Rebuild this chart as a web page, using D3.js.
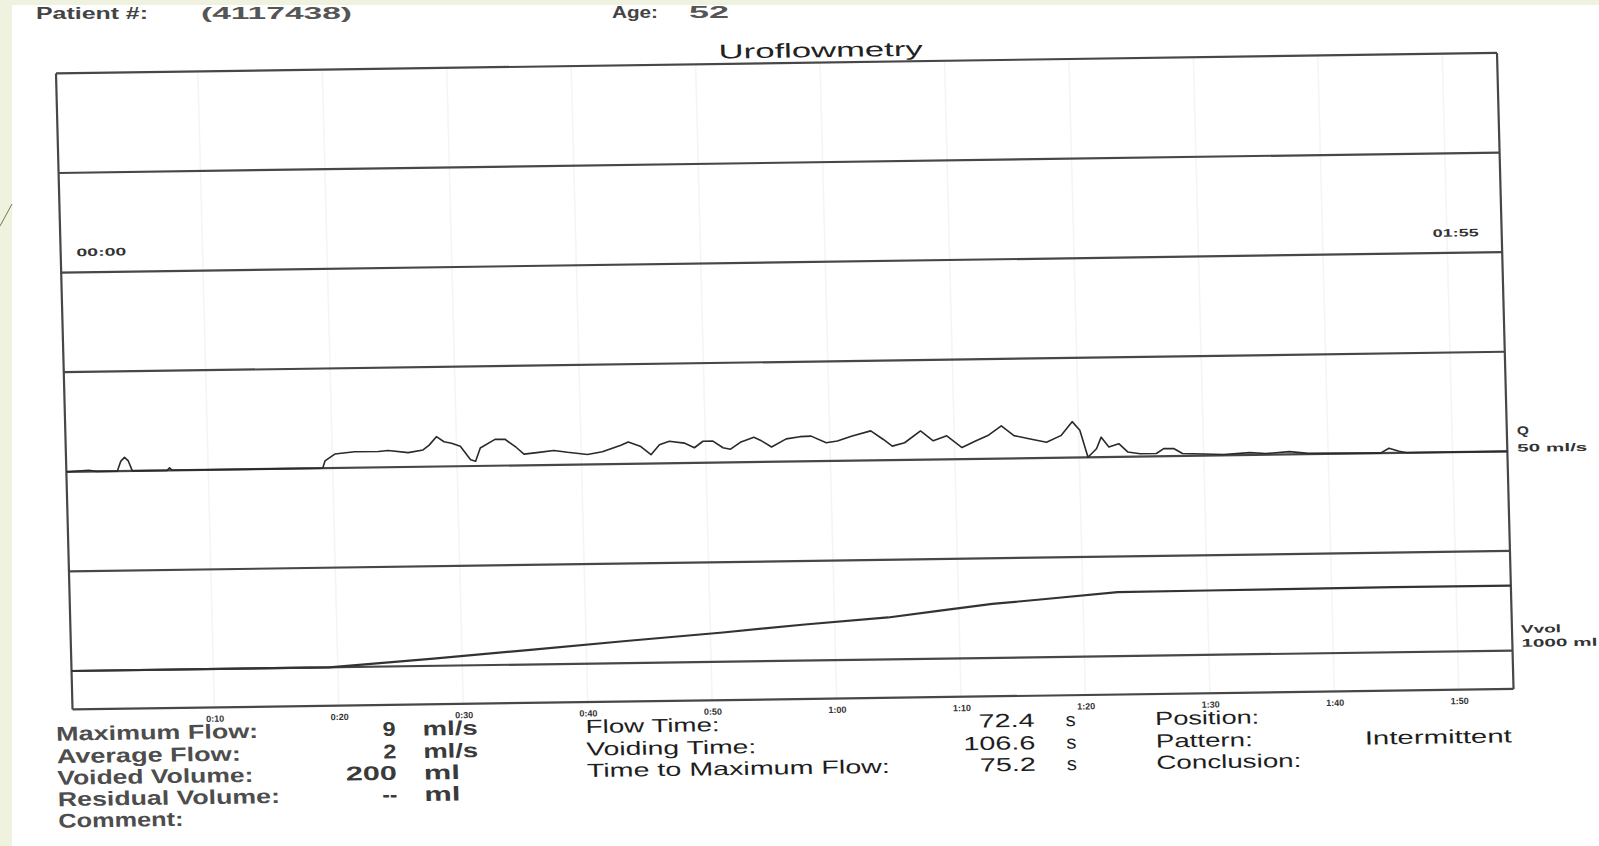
<!DOCTYPE html>
<html><head><meta charset="utf-8">
<script src="https://cdn.jsdelivr.net/npm/d3@7"></script>
<style>html,body{margin:0;padding:0;background:#fff;overflow:hidden}</style>
</head><body>
<svg id="c" width="1599" height="846"></svg>
<script>
// ---------- data ----------
const flowTime = [-1.4,0.4,1.0,2.7,3.0,3.3,3.6,3.9,6.7,6.9,7.1,19.2,19.4,20.2,21.8,23.7,24.5,26.1,27.3,27.8,28.4,29.0,29.6,30.3,31.1,31.5,31.9,33.1,33.9,34.8,35.4,36.6,37.8,38.9,40.5,41.7,43.2,43.8,44.8,45.6,46.3,47.1,48.3,49.1,49.8,50.6,51.4,52.0,52.8,53.9,54.5,55.3,56.5,57.6,58.5,59.7,60.6,61.8,63.3,64.3,65.0,66.0,67.3,68.3,69.4,70.6,71.7,72.7,73.8,74.8,76.1,77.4,78.6,79.5,80.1,80.7,81.4,81.8,82.4,83.2,83.9,84.9,86.2,86.8,87.6,88.3,91.6,93.7,95.0,96.9,98.4,104.2,104.9,105.7,106.3,114.4];
const flowRate = [0,0.3,0,0,2.5,3.4,2.5,0,0,0.6,0,0,1.8,3.5,4.0,4.0,4.2,3.6,4.2,5.4,7.5,6.2,5.8,5.0,1.6,1.2,4.5,6.6,6.6,4.5,2.8,3.2,3.6,3.1,2.5,3.1,4.7,5.5,4.3,2.2,4.7,5.5,5.0,3.8,5.4,5.4,3.7,3.3,5.0,6.2,5.3,3.7,5.7,6.2,6.3,4.6,5.0,6.2,7.4,5.2,3.5,4.3,7.2,4.7,5.9,2.9,4.5,5.8,8.2,5.7,4.8,3.9,5.6,9.0,6.8,0.0,2.1,5.0,2.5,3.3,1.2,0.7,0.7,1.9,1.9,0.6,0.2,0.6,0.3,0.7,0.2,0,1.2,0.4,0,0];
const volTime = [-1.4,19.3,27.7,35.5,43.2,51.0,57.6,64.3,68.5,72.7,77.0,82.8,90,105,114.4];
const volAmount = [0,0,22,45,68,90,111,129,148,166,179,197,198,200,200];
const tickSeconds = [10,20,30,40,50,60,70,80,90,100,110];
const tickLabels = ["0:10","0:20","0:30","0:40","0:50","1:00","1:10","1:20","1:30","1:40","1:50"];
const statLabels1 = ["Maximum Flow:","Average Flow:","Voided Volume:","Residual Volume:","Comment:"];
const statValues1 = ["9","2","200","--",""];
const statUnits1 = ["ml/s","ml/s","ml","ml",""];
const statLabels2 = ["Flow Time:","Voiding Time:","Time to Maximum Flow:"];
const statValues2 = ["72.4","106.6","75.2"];
const statUnits2 = ["s","s","s"];
const statLabels3 = ["Position:","Pattern:","Conclusion:"];
const statValues3 = ["","Intermittent",""];
const title = "Uroflowmetry";

// ---------- layout ----------
const W = 1441, H = 636, ROW = 99.6;
const svg = d3.select("#c");
const FONT = "'Liberation Sans', Arial, sans-serif";

function txt(g, x, y, s, o) {
  o = o || {};
  const t = g.append("text").attr("x", x).attr("y", y).text(s)
    .attr("font-family", FONT).attr("font-size", o.size || 18)
    .attr("font-weight", o.weight || "normal").attr("fill", o.fill || "#222");
  const nat = t.node().getComputedTextLength();
  const w = o.width || nat * (o.k || 1.4);
  t.attr("textLength", w).attr("lengthAdjust", "spacingAndGlyphs");
  if (o.right !== undefined) t.attr("x", o.right - w);
  return t;
}

// slide background decoration
svg.append("rect").attr("x", 0).attr("y", 0).attr("width", 1599).attr("height", 5).attr("fill", "#eef2de");
svg.append("rect").attr("x", 0).attr("y", 0).attr("width", 12).attr("height", 846).attr("fill", "#eef2de");
svg.append("line").attr("x1", 0).attr("y1", 226).attr("x2", 12).attr("y2", 204)
  .attr("stroke", "#77774f").attr("stroke-width", 1);

// header
txt(svg, 36, 19, "Patient #:", {size: 16, weight: "bold", fill: "#444", width: 112});
txt(svg, 201, 19, "(4117438)", {size: 16, weight: "bold", fill: "#555", width: 151});
txt(svg, 612, 18, "Age:", {size: 16, weight: "bold", fill: "#444", width: 46});
txt(svg, 689, 18, "52", {size: 16, weight: "bold", fill: "#555", width: 40});

// page group (scanned page is slightly skewed)
const g = svg.append("g").attr("transform", "matrix(1,-0.0142,0.026,1,56,73.4)");

const x = d3.scaleLinear().domain([-1.4, 114.4]).range([0, W]);
const yFlow = d3.scaleLinear().domain([0, 50]).range([4 * ROW, 2 * ROW]);
const yVol = d3.scaleLinear().domain([0, 1000]).range([6 * ROW, 6 * ROW - 325]);

// faint vertical grid
g.selectAll("line.vg").data(tickSeconds).join("line")
  .attr("x1", d => x(d)).attr("x2", d => x(d)).attr("y1", 0).attr("y2", H)
  .attr("stroke", "#f4f4f4").attr("stroke-width", 1.5);

// horizontal grid lines
const rows = d3.range(0, 7).map(i => i * ROW).concat([H]);
g.selectAll("line.hg").data(rows).join("line")
  .attr("x1", 0).attr("x2", W).attr("y1", d => d).attr("y2", d => d)
  .attr("stroke", "#474747").attr("stroke-width", 2.2);
// frame verticals
g.selectAll("line.fv").data([0, W]).join("line")
  .attr("x1", d => d).attr("x2", d => d).attr("y1", 0).attr("y2", H)
  .attr("stroke", "#474747").attr("stroke-width", 2.2);

// x axis tick labels
const axis = d3.axisBottom(x).tickValues(tickSeconds).tickFormat((d, i) => tickLabels[i]).tickSize(0).tickPadding(8);
const ax = g.append("g").attr("transform", `translate(0,${H})`).call(axis);
ax.select(".domain").remove();
ax.selectAll("text").attr("font-family", FONT).attr("font-size", 9).attr("font-weight", "bold").attr("fill", "#333");

// volume curve
const vLine = d3.line().x((d, i) => x(volTime[i])).y(d => yVol(d));
g.append("path").attr("d", vLine(volAmount)).attr("fill", "none")
  .attr("stroke", "#333").attr("stroke-width", 2.2);

// flow curve
const fLine = d3.line().x((d, i) => x(flowTime[i])).y(d => yFlow(d));
g.append("path").attr("d", fLine(flowRate)).attr("fill", "none")
  .attr("stroke", "#2a2a2a").attr("stroke-width", 1.6).attr("stroke-linejoin", "round");

// title
txt(g, 765 - 102, -5.5, title, {size: 20, fill: "#222", width: 204});

// channel labels
txt(g, 15.7, 183, "00:00", {size: 11, weight: "bold", fill: "#333", width: 50});
txt(g, 1372, 183, "01:55", {size: 11, weight: "bold", fill: "#333", width: 46});
txt(g, 1451, 382, "Q", {size: 12, weight: "bold", fill: "#333", width: 12});
txt(g, 1451, 399, "50 ml/s", {size: 11, weight: "bold", fill: "#333", width: 70});
txt(g, 1450, 580, "Vvol", {size: 11, weight: "bold", fill: "#333", width: 40});
txt(g, 1450, 594, "1000 ml", {size: 11, weight: "bold", fill: "#333", width: 76});

// statistics
const srow = [667, 689.5, 711, 732.5, 754];
const w1 = [202, 184, 196, 222, 125];
const vw1 = [13, 13, 51, 15, 0];
const uw1 = [55, 55, 36, 36, 0];
statLabels1.forEach((s, i) => {
  txt(g, -17, srow[i], s, {size: 20, weight: "bold", fill: "#4d4d4d", width: w1[i]});
  if (statValues1[i]) txt(g, 0, srow[i], statValues1[i], {size: 20, weight: "bold", fill: "#3a3a3a", width: vw1[i], right: 322.5});
  if (statUnits1[i]) txt(g, 349.5, srow[i], statUnits1[i], {size: 20, weight: "bold", fill: "#3a3a3a", width: uw1[i]});
});
const w2 = [134, 170, 303];
const vw2 = [56, 72, 56];
statLabels2.forEach((s, i) => {
  txt(g, 512.5, srow[i], s, {size: 19, fill: "#1e1e1e", width: w2[i]});
  txt(g, 0, srow[i], statValues2[i], {size: 19, fill: "#1e1e1e", width: vw2[i], right: 961.5});
  txt(g, 992.5, srow[i], statUnits2[i], {size: 19, fill: "#1e1e1e", width: 10});
});
const w3 = [104, 97, 145];
statLabels3.forEach((s, i) => {
  txt(g, 1082, srow[i], s, {size: 19, fill: "#1e1e1e", width: w3[i]});
  if (statValues3[i]) txt(g, 1291, srow[i], statValues3[i], {size: 19, fill: "#1e1e1e", width: 147});
});
</script>
</body></html>
